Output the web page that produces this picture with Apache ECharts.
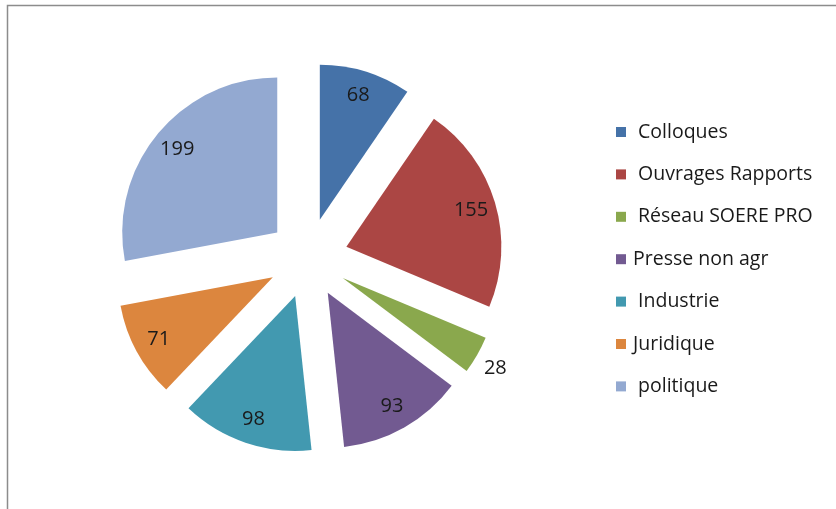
<!DOCTYPE html>
<html>
<head>
<meta charset="utf-8">
<script src="https://cdn.jsdelivr.net/npm/echarts@6/dist/echarts.min.js"></script>
<style>
  html, body { margin: 0; padding: 0; background: #fff; }
  #chart { width: 836px; height: 509px; }
</style>
</head>
<body>
<div id="chart"></div>
<script>
// data
const categories = [" Colloques", " Ouvrages Rapports", " Réseau SOERE PRO", "Presse non agr", " Industrie", "Juridique", " politique"];
const values = [68, 155, 28, 93, 98, 71, 199];
const colors = ["#4572a8", "#ab4644", "#8aa84d", "#725a91", "#4299b0", "#dc863e", "#93a9d1"];

const chart = echarts.init(document.getElementById("chart"));

const center = [308, 258];
const offset = 40; // explosion distance

let sliceData = categories.map((name, i) => ({
  name: name,
  value: values[i],
  selected: true,
  itemStyle: { color: colors[i] },
}));

// transparent ring only used to place the labels further out, like excel does
let labelData = categories.map((name, i) => {
  let item = { name: name, value: values[i], selected: true };
  if (values[i] < 40) {
    // small slice gets its label outside, no leader line
    // (blank first line pushes the number down a bit)
    item.label = { position: "outside", formatter: "\n{c}", lineHeight: 24 };
    item.labelLine = { show: false, length: 2, length2: 0 };
  }
  return item;
});

let option = {
  animation: false,
  color: colors,
  graphic: [
    {
      type: "rect",
      shape: { x: 7.5, y: 5.5, width: 900, height: 600 },
      style: { fill: null, stroke: "#8c8c8c", lineWidth: 1.5 },
      silent: true,
    },
  ],
  legend: {
    orient: "vertical",
    left: 611,
    top: 117,
    icon: "rect",
    itemWidth: 10,
    itemHeight: 10,
    itemGap: 22.4,
    data: categories,
    textStyle: {
      fontFamily: "Open Sans",
      fontSize: 19.5,
      color: "#1a1a1a",
      lineHeight: 20,
      padding: [0, 0, 0, 2],
    },
    selectedMode: false,
  },
  series: [
    {
      name: "slices",
      type: "pie",
      center: center,
      radius: [0, 155],
      startAngle: 90,
      clockwise: true,
      selectedMode: "multiple",
      selectedOffset: offset,
      label: { show: false },
      labelLine: { show: false },
      emphasis: { disabled: true },
      select: { itemStyle: { borderWidth: 0 } },
      data: sliceData,
    },
    {
      name: "labels",
      type: "pie",
      center: center,
      radius: [99, 155],
      startAngle: 90,
      clockwise: true,
      silent: true,
      selectedMode: "multiple",
      selectedOffset: offset,
      itemStyle: { color: "rgba(0,0,0,0)" },
      emphasis: { disabled: true },
      label: {
        show: true,
        position: "inside",
        formatter: "{c}",
        fontFamily: "Open Sans",
        fontSize: 20,
        color: "#1a1a1a",
      },
      labelLine: { show: false },
      data: labelData,
    },
  ],
};

chart.setOption(option);
</script>
</body>
</html>
